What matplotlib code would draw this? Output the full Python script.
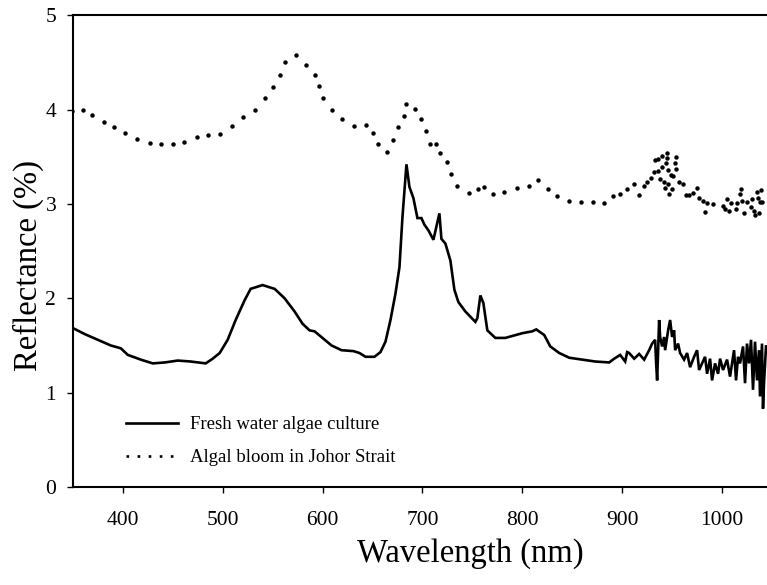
import matplotlib.pyplot as plt
from matplotlib.lines import Line2D

plt.rcParams['font.family'] = ['Liberation Serif', 'DejaVu Serif']

# fresh water algae culture spectrum (nm, %)
culture_wl = [349, 362, 375, 388, 398, 405, 418, 430, 442, 455, 468, 483, 490, 497,
              505, 513, 522, 528, 540, 552, 562, 572, 580, 587, 592, 600, 609, 619,
              631, 637, 643, 652, 658, 663, 668, 673, 677, 680, 684, 687, 691, 695,
              699, 702, 706, 711, 714, 717, 719, 723, 728, 732, 736, 743, 753, 755,
              758, 761, 765, 773, 783, 800, 810, 814, 822, 828, 837, 847, 860, 873,
              887, 892, 898, 903, 905, 907, 912, 917, 922, 927, 930, 933, 934, 935,
              937, 938, 940, 942, 943, 946, 948, 950, 952, 953, 956, 958, 962, 965,
              968, 972, 975, 977, 980, 983, 985, 988, 990, 993, 996, 998, 1001, 1005,
              1008, 1012, 1014, 1016, 1018, 1021, 1023, 1025, 1027, 1029, 1031, 1033,
              1035, 1037, 1038, 1040, 1041, 1042, 1044]
culture_refl = [1.69, 1.62, 1.56, 1.50, 1.47, 1.40, 1.35, 1.31, 1.32, 1.34, 1.33, 1.31,
                1.36, 1.42, 1.56, 1.77, 1.98, 2.10, 2.14, 2.10, 2.00, 1.86, 1.73, 1.66,
                1.65, 1.58, 1.50, 1.45, 1.44, 1.42, 1.38, 1.38, 1.43, 1.54, 1.77, 2.05,
                2.33, 2.86, 3.42, 3.18, 3.06, 2.85, 2.85, 2.78, 2.72, 2.62, 2.76, 2.90,
                2.63, 2.58, 2.40, 2.09, 1.96, 1.86, 1.75, 1.79, 2.03, 1.95, 1.66, 1.58,
                1.58, 1.63, 1.65, 1.67, 1.61, 1.49, 1.42, 1.37, 1.35, 1.33, 1.32, 1.36,
                1.40, 1.33, 1.43, 1.42, 1.36, 1.41, 1.35, 1.45, 1.52, 1.56, 1.31, 1.13,
                1.77, 1.59, 1.49, 1.59, 1.45, 1.66, 1.77, 1.59, 1.66, 1.45, 1.52, 1.42,
                1.35, 1.42, 1.27, 1.38, 1.45, 1.24, 1.31, 1.38, 1.20, 1.36, 1.13, 1.31,
                1.20, 1.36, 1.24, 1.35, 1.17, 1.45, 1.13, 1.38, 1.31, 1.49, 1.10, 1.52,
                1.31, 1.56, 1.03, 1.54, 1.13, 1.45, 0.96, 1.52, 0.83, 1.10, 1.49]

# algal bloom in Johor Strait, sampled dots (nm, %)
bloom_wl = [349, 360, 369, 381, 391, 402, 414, 427, 438, 450, 461, 474, 485, 497,
            509, 520, 532, 542, 550, 557, 562, 573, 583, 592, 596, 600, 609, 619,
            631, 643, 651, 656, 665, 671, 676, 682, 684, 693, 699, 704, 708, 714,
            718, 725, 729, 735, 747, 756, 762, 771, 782, 795, 807, 816, 826, 835,
            847, 859, 871, 882, 891, 898, 905, 912, 917, 922, 925, 929, 932, 936,
            933, 936, 940, 945, 945, 954, 940, 944, 946, 949, 953, 954, 951, 938,
            942, 946, 943, 950, 947, 957, 961, 964, 967, 971, 975, 977, 981, 985,
            991, 983, 1001, 1003, 1005, 1007, 1009, 1014, 1015, 1018, 1019, 1020,
            1022, 1025, 1029, 1030, 1032, 1033, 1035, 1036, 1037, 1038, 1039, 1040]
bloom_refl = [3.99, 4.00, 3.94, 3.87, 3.81, 3.75, 3.69, 3.65, 3.63, 3.64, 3.66, 3.71,
              3.73, 3.74, 3.83, 3.92, 4.00, 4.12, 4.24, 4.37, 4.50, 4.58, 4.47, 4.37,
              4.25, 4.12, 4.00, 3.90, 3.83, 3.84, 3.75, 3.63, 3.55, 3.68, 3.81, 3.93,
              4.06, 4.01, 3.90, 3.77, 3.64, 3.63, 3.54, 3.44, 3.32, 3.19, 3.12, 3.16,
              3.18, 3.10, 3.13, 3.17, 3.19, 3.25, 3.16, 3.08, 3.03, 3.02, 3.02, 3.01,
              3.08, 3.11, 3.16, 3.21, 3.09, 3.19, 3.23, 3.28, 3.34, 3.35, 3.47, 3.48,
              3.51, 3.54, 3.49, 3.50, 3.39, 3.43, 3.36, 3.31, 3.43, 3.37, 3.30, 3.26,
              3.23, 3.21, 3.17, 3.16, 3.11, 3.23, 3.21, 3.09, 3.09, 3.12, 3.17, 3.06,
              3.03, 3.01, 3.00, 2.91, 2.98, 2.95, 3.05, 2.92, 3.01, 2.95, 3.01, 3.10,
              3.16, 3.03, 2.90, 3.02, 2.97, 3.05, 2.93, 2.88, 3.13, 3.06, 2.90, 3.02,
              3.15, 3.02]

fig = plt.figure(figsize=(7.67, 5.85), dpi=100)
ax = fig.add_axes([0.095, 0.1675, 0.905, 0.8065])

ax.plot(culture_wl, culture_refl, color='black', lw=1.9, solid_joinstyle='miter')
ax.plot(bloom_wl, bloom_refl, ls='none', marker='o', ms=2.2, color='black')

ax.set_xlim(350, 1045)
ax.set_ylim(0, 5)
ax.set_xticks([400, 500, 600, 700, 800, 900, 1000])
ax.set_yticks([0, 1, 2, 3, 4, 5])
ax.tick_params(direction='out', length=4, width=1, labelsize=15.5)
ax.tick_params(axis='x', pad=13)
ax.tick_params(axis='y', pad=8)
ax.spines['right'].set_visible(False)
for s in ['left', 'bottom', 'top']:
    ax.spines[s].set_linewidth(1.5)

ax.set_xlabel('Wavelength (nm)', fontsize=23.5)
ax.set_ylabel('Reflectance (%)', fontsize=23.5)
ax.xaxis.set_label_coords(0.573, -0.108)
ax.yaxis.set_label_coords(-0.042, 0.47)

handles = [Line2D([], [], color='black', lw=1.9),
           Line2D([], [], color='black', lw=1.9, ls=(0, (1, 3.2)))]
ax.legend(handles, ['Fresh water algae culture', 'Algal bloom in Johor Strait'],
          loc='lower left', bbox_to_anchor=(0.052, 0.008), frameon=False,
          fontsize=13.5, handlelength=2.8, handletextpad=0.6, labelspacing=0.85)

plt.savefig('out.png', dpi=100)
